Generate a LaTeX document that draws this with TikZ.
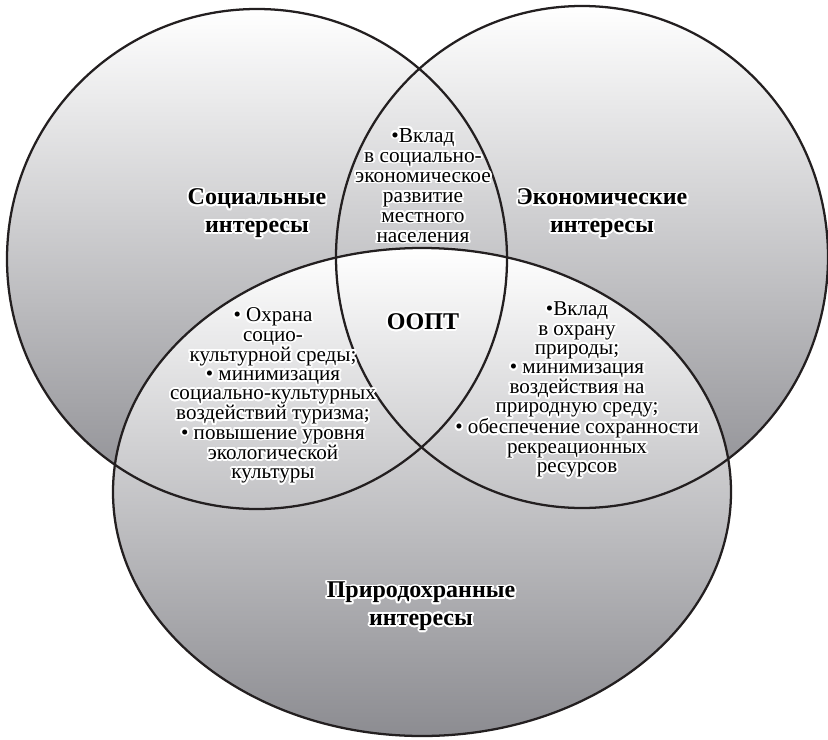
\documentclass[tikz,border=0pt]{standalone}
\usepackage{fontspec}
\setmainfont{Liberation Serif}
\usepackage[copies]{contour}
\contourlength{1.4pt}
\contournumber{24}

\definecolor{venngray}{RGB}{140,140,145}
\definecolor{vennline}{RGB}{35,31,32}

% white rim round a block of lines
\newcommand\halo[1]{\contour{white}{\begin{tabular}{@{}c@{}}#1\end{tabular}}}

\begin{document}
\begin{tikzpicture}[x=0.75pt,y=-0.75pt]
  \tikzset{
  ring/.style={top color=white,bottom color=venngray},
  rim/.style={vennline,line width=1.7pt},
  head/.style={font=\fontsize{18}{20.5}\selectfont\bfseries,inner sep=0pt},
  body/.style={font=\fontsize{16}{15}\selectfont,inner sep=0pt},
  lens/.style={font=\fontsize{15.8}{14.4}\selectfont,inner sep=0pt},
  }
  \useasboundingbox (0,0) rectangle (828,739);
  % the circles
  \shade[ring] (257,259) circle [radius=250];
  \shade[ring] (582,257) ellipse [x radius=246, y radius=251];
  \shade[ring] (422,492) ellipse [x radius=309, y radius=244];
  % the outlines
  \draw[rim] (257,259) circle [radius=250];
  \draw[rim] (582,257) ellipse [x radius=246, y radius=251];
  \draw[rim] (422,492) ellipse [x radius=309, y radius=244];

  % the interests
  \node[head] (soc) at (257,214) {\halo{Социальные\\интересы}};
  \node[head] (eco) at (602,214) {\halo{Экономические\\интересы}};
  \node[head] (nat) at (421,607) {\halo{Природохранные\\интересы}};
  \node[head] (oopt) at (423,325) {\halo{ООПТ}};

  % the overlaps
  \node[body] (se) at (423,189) {\halo{\textbullet Вклад\\в социально-\\экономическое\\развитие\\местного\\населения}};
  \node[lens] (sn) at (273,397) {\halo{\textbullet{} Охрана\\социо-\\культурной среды;\\\textbullet{} минимизация\\социально-культурных\\воздействий туризма;\\\textbullet{} повышение уровня\\экологической\\культуры}};
  \node[lens] (en) at (577,391) {\halo{\textbullet Вклад\\в охрану\\природы;\\\textbullet{} минимизация\\воздействия на\\природную среду;\\\textbullet{} обеспечение сохранности\\рекреационных\\ресурсов}};
\end{tikzpicture}
\end{document}
